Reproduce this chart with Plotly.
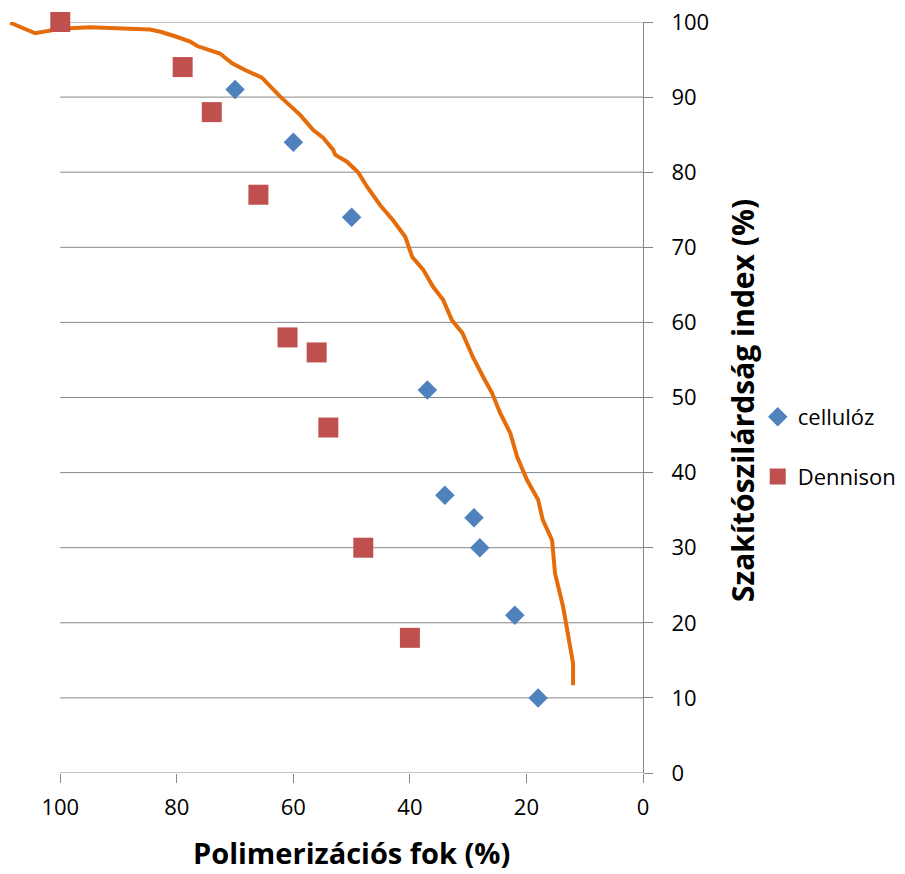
import plotly.graph_objects as go

# Orange curve
curve_x = [108.6, 104.3, 100.0, 94.9, 84.6, 82.8, 80.3, 77.7, 76.5, 72.6, 70.5, 68.3, 65.4, 62.3,
           58.8, 56.6, 54.9, 53.2, 52.8, 50.8, 48.9, 47.3, 45.1, 42.9, 40.8, 39.6, 37.7, 36.0,
           34.3, 32.8, 31.0, 29.2, 27.4, 25.9, 24.5, 22.8, 21.6, 19.9, 18.0, 17.2, 15.6, 15.1,
           13.7, 12.9, 12.0, 12.0]
curve_y = [99.9, 98.5, 99.1, 99.3, 99.0, 98.7, 98.1, 97.4, 96.8, 95.8, 94.5, 93.6, 92.6, 90.1,
           87.6, 85.6, 84.6, 83.0, 82.3, 81.4, 80.0, 78.0, 75.6, 73.6, 71.4, 68.7, 67.0, 64.7,
           63.0, 60.3, 58.6, 55.4, 52.7, 50.6, 47.9, 45.3, 42.1, 39.0, 36.4, 33.7, 31.0, 26.6,
           22.1, 18.6, 14.6, 11.7]

# cellulóz
cell_x = [70, 60, 50, 37, 34, 29, 28, 22, 18]
cell_y = [91, 84, 74, 51, 37, 34, 30, 21, 10]

# Dennison
den_x = [100, 79, 74, 66, 61, 56, 54, 48, 40]
den_y = [100, 94, 88, 77, 58, 56, 46, 30, 18]

x_ticks = [100, 80, 60, 40, 20, 0]
y_ticks = [0, 10, 20, 30, 40, 50, 60, 70, 80, 90, 100]

FONT = "Open Sans"
GRID = "#868686"

fig = go.Figure()
fig.add_trace(go.Scatter(x=curve_x, y=curve_y, mode="lines",
                         line=dict(color="#E46C0A", width=4), showlegend=False,
                         hoverinfo="skip"))
fig.add_trace(go.Scatter(x=cell_x, y=cell_y, mode="markers", name="cellulóz",
                         marker=dict(symbol="diamond", size=15, color="#4F81BD"),
                         cliponaxis=False, legendgroup="a"))
fig.add_trace(go.Scatter(x=den_x, y=den_y, mode="markers", name="Dennison",
                         marker=dict(symbol="square", size=20, color="#C0504D"),
                         cliponaxis=False, legendgroup="b"))

shapes = []
for yv in y_ticks:
    shapes.append(dict(type="line", xref="x", yref="y", x0=100, x1=0, y0=yv, y1=yv,
                       line=dict(color=GRID, width=1), layer="below"))

fig.update_layout(
    width=905, height=874,
    margin=dict(l=2, r=262, t=22, b=101),
    plot_bgcolor="white", paper_bgcolor="white",
    font=dict(family=FONT, size=22, color="black"),
    shapes=shapes,
    xaxis=dict(range=[110, 0], tickvals=x_ticks, ticktext=[str(v) for v in x_ticks],
               showgrid=False, zeroline=False, showline=False,
               ticks="outside", ticklen=9, tickcolor=GRID, tickfont=dict(size=22),
               ticklabelstandoff=6),
    yaxis=dict(range=[0, 100], side="right", tickvals=y_ticks,
               showgrid=False, zeroline=False, showline=True, linecolor=GRID,
               ticks="outside", ticklen=9, tickcolor=GRID, tickfont=dict(size=22),
               ticklabelstandoff=14),
    legend=dict(x=1.179, y=0.502, xanchor="left", yanchor="top",
                font=dict(size=22), tracegroupgap=28, traceorder="grouped",
                itemwidth=30),
    annotations=[
        dict(text="<b>Polimerizációs fok (%)</b>", xref="paper", yref="paper",
             x=0.5445, y=-0.1065, xanchor="center", yanchor="middle",
             showarrow=False, font=dict(size=29)),
        dict(text="<b>Szakítószilárdság index (%)</b>", xref="paper", yref="paper",
             x=1.156, y=0.4967, xanchor="center", yanchor="middle",
             textangle=-90, showarrow=False, font=dict(size=30)),
    ],
)
fig.write_html("out.html")
